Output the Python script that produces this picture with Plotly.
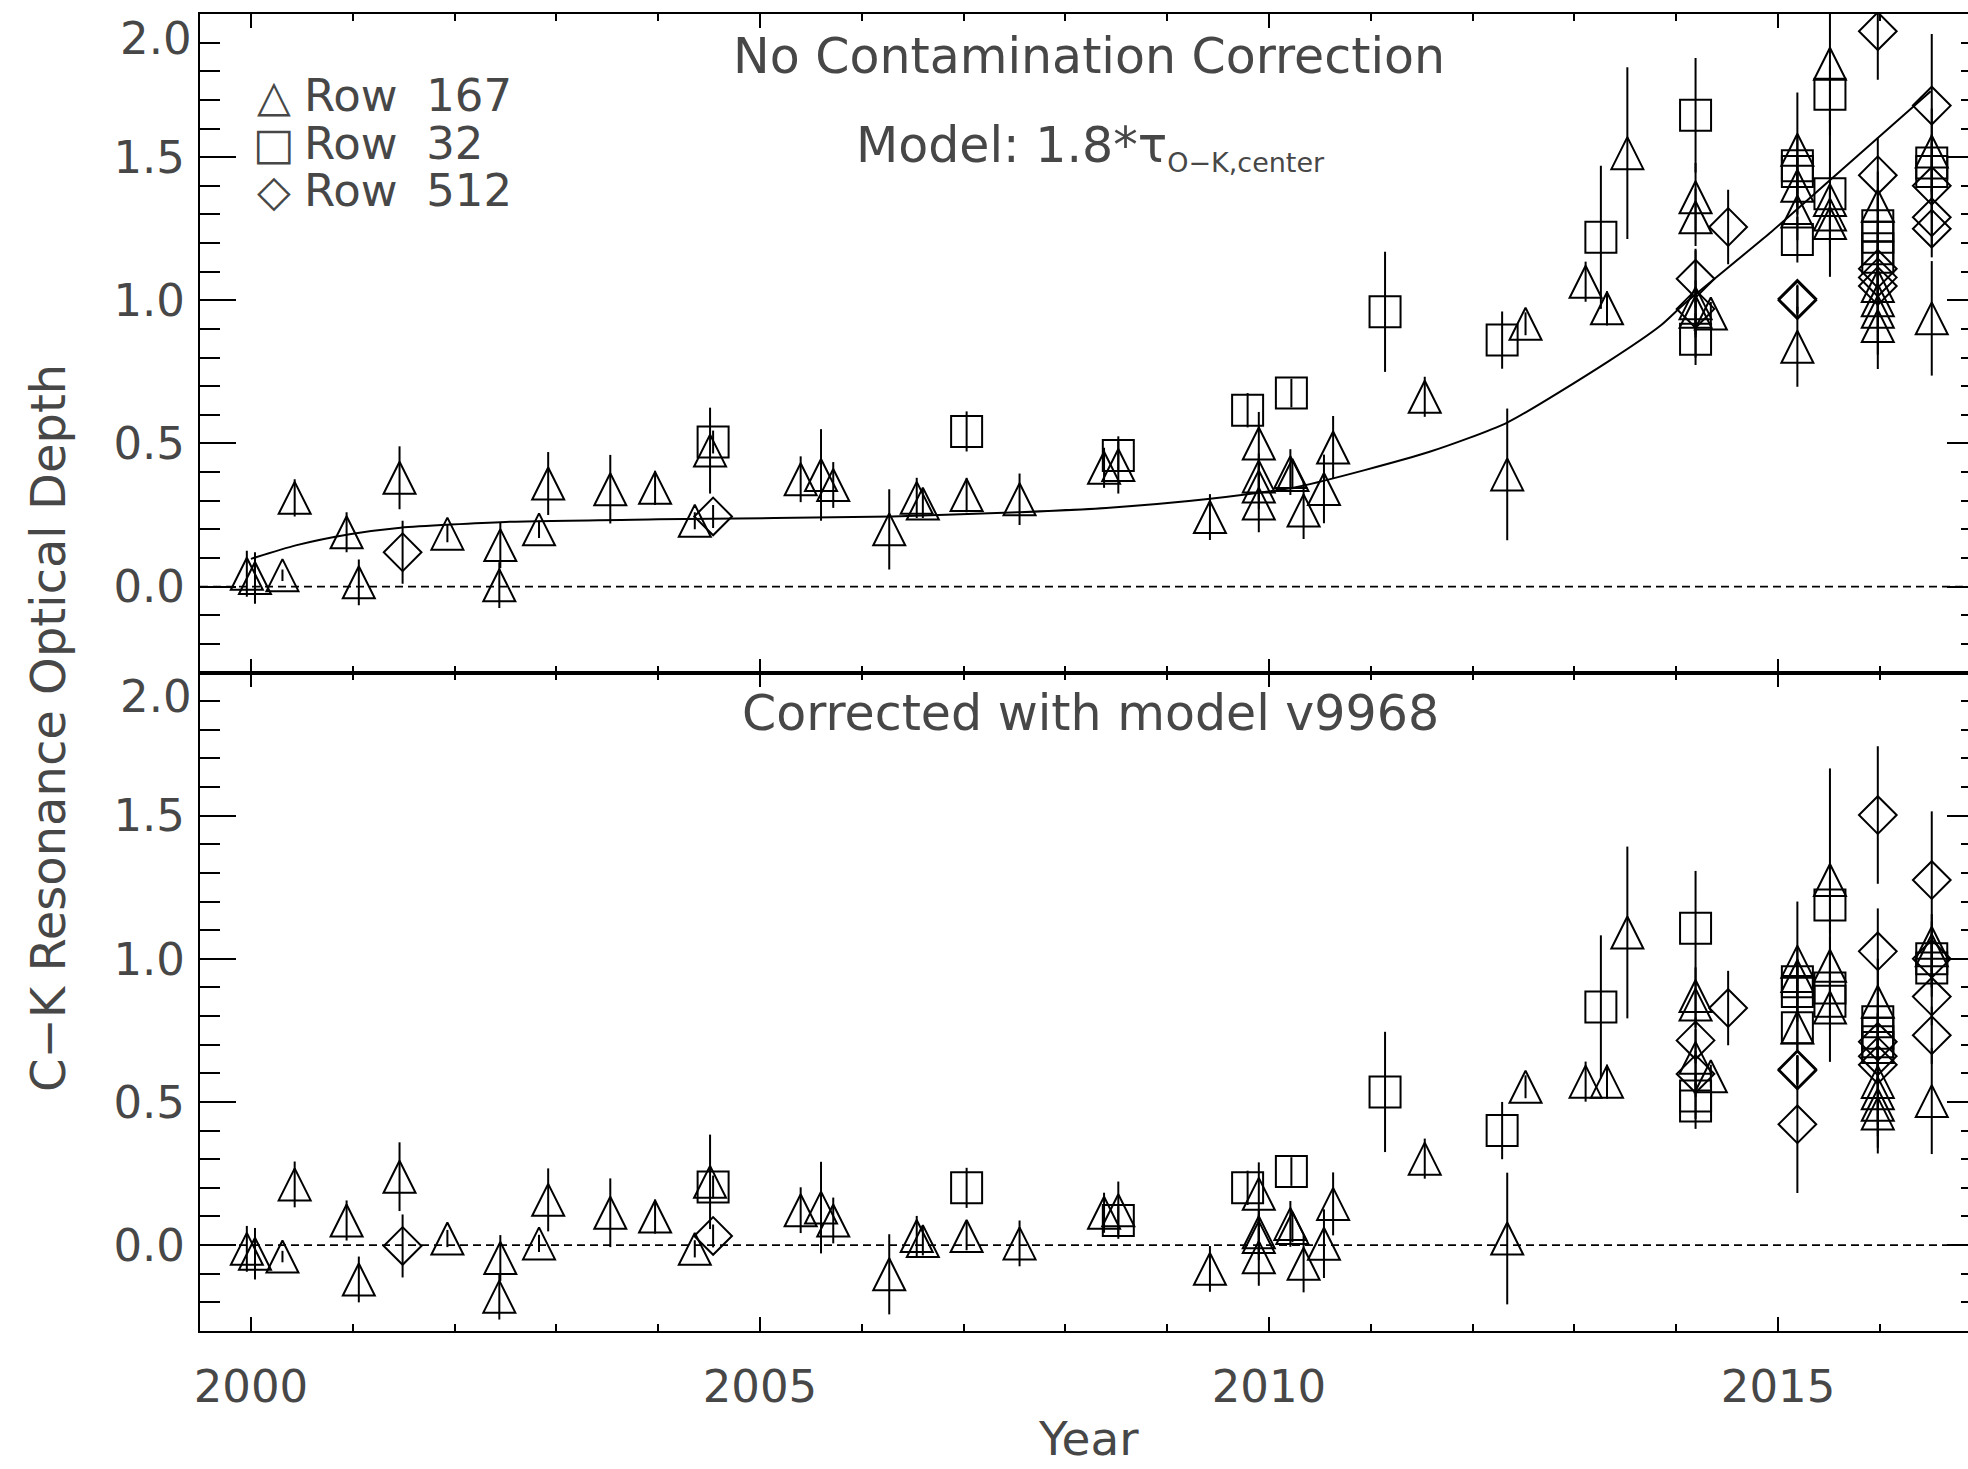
import plotly.graph_objects as go

# ---------------- data ----------------
# Upper panel: no contamination correction
row167_year_top = [1999.96, 2000.04, 2000.31, 2000.43, 2000.94, 2001.06, 2001.46, 2001.93, 2002.45, 2002.44,
                   2002.83, 2002.92, 2003.53, 2003.97, 2004.36, 2004.51, 2005.40, 2005.60, 2005.72, 2006.27,
                   2006.54, 2006.60, 2007.03, 2007.55, 2008.38, 2008.52, 2009.42, 2009.90, 2009.90, 2009.90,
                   2009.90, 2010.21, 2010.23, 2010.34, 2010.54, 2010.63, 2011.53, 2012.34, 2012.52, 2013.11,
                   2013.32, 2013.52, 2014.19, 2014.19, 2014.19, 2014.19, 2014.34, 2015.19, 2015.19, 2015.19,
                   2015.19, 2015.51, 2015.51, 2015.51, 2015.51, 2015.98, 2015.98, 2015.98, 2015.98, 2015.98,
                   2016.51, 2016.51]
row167_tau_top = [0.045, 0.030, 0.040, 0.310, 0.190, 0.015, 0.380, 0.185, 0.145, 0.005,
                  0.200, 0.360, 0.340, 0.345, 0.230, 0.475, 0.375, 0.390, 0.355, 0.200,
                  0.310, 0.290, 0.320, 0.305, 0.415, 0.425, 0.243, 0.500, 0.385, 0.350,
                  0.290, 0.400, 0.390, 0.266, 0.341, 0.486, 0.663, 0.392, 0.918, 1.065,
                  0.972, 1.514, 1.360, 1.290, 0.990, 0.960, 0.954, 1.526, 1.400, 1.310,
                  0.838, 1.826, 1.350, 1.300, 1.270, 1.330, 1.050, 1.000, 0.960, 0.910,
                  1.520, 0.937]
row167_err_top = [0.08, 0.09, 0.02, 0.065, 0.07, 0.08, 0.11, 0.03, 0.08, 0.08,
                  0.03, 0.11, 0.12, 0.06, 0.03, 0.15, 0.08, 0.16, 0.08, 0.14,
                  0.07, 0.05, 0.06, 0.09, 0.07, 0.10, 0.08, 0.11, 0.08, 0.08,
                  0.10, 0.08, 0.05, 0.10, 0.12, 0.11, 0.07, 0.23, 0.04, 0.07,
                  0.06, 0.30, 0.12, 0.10, 0.19, 0.08, 0.04, 0.20, 0.10, 0.10,
                  0.14, 0.25, 0.10, 0.10, 0.10, 0.12, 0.15, 0.15, 0.15, 0.15,
                  0.15, 0.20]

row32_year_top = [2004.54, 2007.03, 2008.52, 2009.79, 2010.22, 2011.14, 2012.29, 2013.26, 2014.19, 2014.19,
                  2015.19, 2015.19, 2015.19, 2015.51, 2015.51, 2015.98, 2015.98, 2015.98, 2015.98, 2016.51,
                  2016.51]
row32_tau_top = [0.505, 0.542, 0.458, 0.616, 0.676, 0.960, 0.861, 1.220, 1.646, 0.864,
                 1.470, 1.450, 1.212, 1.720, 1.372, 1.260, 1.220, 1.180, 1.150, 1.480,
                 1.450]
row32_err_top = [0.04, 0.07, 0.05, 0.06, 0.05, 0.21, 0.10, 0.25, 0.20, 0.09,
                 0.10, 0.05, 0.08, 0.10, 0.29, 0.10, 0.10, 0.10, 0.10, 0.10,
                 0.10]

row512_year_top = [2001.49, 2004.54, 2014.19, 2014.19, 2014.51, 2015.19, 2015.19, 2015.98, 2015.98, 2015.98,
                   2015.98, 2015.98, 2016.51, 2016.51, 2016.51, 2016.51]
row512_tau_top = [0.120, 0.245, 1.075, 0.970, 1.256, 1.000, 1.005, 1.940, 1.437, 1.110,
                  1.080, 1.050, 1.680, 1.400, 1.290, 1.250]
row512_err_top = [0.11, 0.04, 0.10, 0.10, 0.13, 0.05, 0.05, 0.17, 0.13, 0.10,
                  0.10, 0.10, 0.25, 0.10, 0.10, 0.10]

# Model curve 1.8 * tau_{O-K,center}
model_year = [2000.0, 2000.44, 2000.97, 2001.47, 2002.5, 2004.0, 2006.3, 2007.55, 2008.4, 2009.4,
              2010.3, 2011.57, 2012.34, 2013.33, 2013.85, 2014.08, 2014.92, 2015.54, 2016.5]
model_tau = [0.097, 0.144, 0.183, 0.206, 0.226, 0.235, 0.245, 0.260, 0.275, 0.306,
             0.350, 0.470, 0.573, 0.786, 0.913, 0.988, 1.235, 1.429, 1.730]

# Lower panel: corrected with model v9968
row167_year_bot = [1999.96, 2000.04, 2000.31, 2000.43, 2000.94, 2001.06, 2001.46, 2001.93, 2002.45, 2002.44,
                   2002.83, 2002.92, 2003.53, 2003.97, 2004.36, 2004.51, 2005.40, 2005.60, 2005.72, 2006.27,
                   2006.54, 2006.60, 2007.03, 2007.55, 2008.38, 2008.52, 2009.42, 2009.90, 2009.90, 2009.90,
                   2009.90, 2010.21, 2010.23, 2010.34, 2010.54, 2010.63, 2011.53, 2012.34, 2012.52, 2013.11,
                   2013.32, 2013.52, 2014.19, 2014.19, 2014.19, 2014.34, 2015.19, 2015.19, 2015.19, 2015.51,
                   2015.51, 2015.51, 2015.98, 2015.98, 2015.98, 2015.98, 2015.98, 2016.51, 2016.51, 2016.51]
row167_tau_bot = [-0.013, -0.030, -0.040, 0.212, 0.086, -0.120, 0.239, 0.023, -0.045, -0.180,
                  0.006, 0.158, 0.113, 0.100, -0.013, 0.221, 0.122, 0.131, 0.086, -0.102,
                  0.032, 0.014, 0.032, 0.006, 0.113, 0.122, -0.083, 0.179, 0.045, 0.028,
                  -0.042, 0.074, 0.060, -0.065, 0.005, 0.144, 0.302, 0.023, 0.553, 0.571,
                  0.571, 1.092, 0.870, 0.840, 0.654, 0.590, 0.990, 0.940, 0.760, 1.275,
                  0.976, 0.830, 0.850, 0.570, 0.530, 0.490, 0.460, 1.056, 1.030, 0.503]
row167_err_bot = [0.08, 0.09, 0.02, 0.08, 0.07, 0.08, 0.12, 0.03, 0.08, 0.08,
                  0.03, 0.11, 0.12, 0.06, 0.03, 0.165, 0.08, 0.16, 0.08, 0.14,
                  0.07, 0.05, 0.05, 0.08, 0.07, 0.10, 0.08, 0.11, 0.08, 0.08,
                  0.10, 0.08, 0.05, 0.10, 0.12, 0.11, 0.07, 0.23, 0.04, 0.07,
                  0.06, 0.30, 0.10, 0.08, 0.10, 0.04, 0.21, 0.10, 0.08, 0.39,
                  0.10, 0.19, 0.15, 0.15, 0.15, 0.15, 0.14, 0.10, 0.10, 0.185]

row32_year_bot = [2004.54, 2007.03, 2008.52, 2009.79, 2010.22, 2011.14, 2012.29, 2013.26, 2014.19, 2014.19,
                  2014.19, 2015.19, 2015.19, 2015.19, 2015.51, 2015.51, 2015.51, 2015.98, 2015.98, 2015.98,
                  2015.98, 2016.51, 2016.51]
row32_tau_bot = [0.203, 0.200, 0.086, 0.200, 0.257, 0.535, 0.400, 0.832, 1.107, 0.521,
                 0.486, 0.920, 0.886, 0.759, 1.188, 0.898, 0.852, 0.780, 0.740, 0.710,
                 0.690, 0.968, 1.000]
row32_err_bot = [0.04, 0.07, 0.05, 0.06, 0.05, 0.21, 0.10, 0.25, 0.20, 0.08,
                 0.08, 0.08, 0.08, 0.08, 0.10, 0.10, 0.10, 0.10, 0.10, 0.10,
                 0.10, 0.10, 0.10]

row512_year_bot = [2001.49, 2004.54, 2014.19, 2014.19, 2014.51, 2015.19, 2015.19, 2015.19, 2015.98, 2015.98,
                   2015.98, 2015.98, 2015.98, 2016.51, 2016.51, 2016.51, 2016.51]
row512_tau_bot = [-0.003, 0.032, 0.715, 0.598, 0.828, 0.614, 0.610, 0.422, 1.502, 1.026,
                  0.710, 0.660, 0.630, 1.275, 1.000, 0.868, 0.733]
row512_err_bot = [0.11, 0.04, 0.08, 0.08, 0.13, 0.05, 0.05, 0.24, 0.24, 0.15,
                  0.10, 0.10, 0.10, 0.24, 0.10, 0.10, 0.10]

legend_labels = ["Row\u00a0\u00a0167", "Row\u00a0\u00a032", "Row\u00a0\u00a0512"]
ytick_vals = [0.0, 0.5, 1.0, 1.5]
ytick_text = ["0.0", "0.5", "1.0", "1.5"]
ytop_label = "2.0"
xtick_vals = [2000, 2005, 2010, 2015]
xtick_text = ["2000", "2005", "2010", "2015"]

# ---------------- styling ----------------
FONT = "DejaVu Sans"
TXT = "#474747"
TRI = dict(symbol="arrow-down-open", size=32, angle=180, standoff=16)
SQR = dict(symbol="square-open", size=31)
DIA = dict(symbol="diamond-open", size=29)

fig = go.Figure()


def add_series(x, y, e, mk, xa, ya):
    fig.add_trace(go.Scatter(
        x=x, y=y, mode="markers", xaxis=xa, yaxis=ya,
        error_y=dict(type="data", array=e, visible=True, color="black", thickness=2, width=0),
        marker=dict(color="black", line=dict(color="black", width=2), **mk),
        showlegend=False, hoverinfo="skip"))


add_series(row167_year_top, row167_tau_top, row167_err_top, TRI, "x", "y")
add_series(row32_year_top, row32_tau_top, row32_err_top, SQR, "x", "y")
add_series(row512_year_top, row512_tau_top, row512_err_top, DIA, "x", "y")
fig.add_trace(go.Scatter(x=model_year, y=model_tau, mode="lines", xaxis="x", yaxis="y",
                         line=dict(color="black", width=2, shape="spline", smoothing=0.6),
                         showlegend=False, hoverinfo="skip"))

add_series(row167_year_bot, row167_tau_bot, row167_err_bot, TRI, "x2", "y2")
add_series(row32_year_bot, row32_tau_bot, row32_err_bot, SQR, "x2", "y2")
add_series(row512_year_bot, row512_tau_bot, row512_err_bot, DIA, "x2", "y2")

# empty traces so the right-hand tick axes are attached to both panels
fig.add_trace(go.Scatter(x=[], y=[], xaxis="x", yaxis="y3", showlegend=False, hoverinfo="skip"))
fig.add_trace(go.Scatter(x=[], y=[], xaxis="x2", yaxis="y4", showlegend=False, hoverinfo="skip"))

# dotted zero lines
for xr, ya in (("x domain", "y"), ("x2 domain", "y2")):
    fig.add_shape(type="line", xref=xr, x0=0, x1=1, yref=ya, y0=0, y1=0,
                  line=dict(color="black", width=1.6, dash="8px,5px"))

XR = [1999.5, 2016.866]
YR = [-0.3, 2.0]

xcommon = dict(range=XR, showline=True, linecolor="black", linewidth=2, mirror="ticks",
               ticks="inside", ticklen=14, tickwidth=2, tickcolor="black",
               tickmode="array", tickvals=xtick_vals, ticktext=xtick_text,
               showgrid=False, zeroline=False,
               minor=dict(tickmode="linear", tick0=2000, dtick=1, ticks="inside", ticklen=7,
                          tickwidth=2, tickcolor="black", showgrid=False))
ycommon = dict(range=YR, showline=True, linecolor="black", linewidth=2,
               ticks="inside", ticklen=36, tickwidth=2, tickcolor="black",
               tickmode="array", tickvals=ytick_vals, ticktext=ytick_text,
               showgrid=False, zeroline=False, ticklabelstandoff=4,
               tickfont=dict(family=FONT, size=45, color=TXT),
               minor=dict(tickmode="linear", tick0=0, dtick=0.1, ticks="inside", ticklen=20,
                          tickwidth=2, tickcolor="black", showgrid=False))
yright = dict(range=YR, showline=False, side="right", ticks="inside", ticklen=21, tickwidth=2,
              tickcolor="black", tickmode="array", tickvals=ytick_vals, showticklabels=False,
              showgrid=False, zeroline=False,
              minor=dict(tickmode="linear", tick0=0, dtick=0.1, ticks="inside", ticklen=7,
                         tickwidth=2, tickcolor="black", showgrid=False))

fig.update_layout(
    width=1968, height=1469,
    margin=dict(l=200, r=0, t=14, b=138, pad=0),
    paper_bgcolor="white", plot_bgcolor="white", showlegend=False,
    font=dict(family=FONT, size=45, color=TXT),
    xaxis=dict(domain=[0, 1], anchor="y", showticklabels=False, **xcommon),
    xaxis2=dict(domain=[0, 1], anchor="y2", matches="x", showticklabels=True,
                ticklabelstandoff=15, tickfont=dict(family=FONT, size=45, color=TXT), **xcommon),
    yaxis=dict(domain=[0.5, 1], anchor="x", **ycommon),
    yaxis2=dict(domain=[0, 0.5], anchor="x2", **ycommon),
    yaxis3=dict(overlaying="y", anchor="x", **yright),
    yaxis4=dict(overlaying="y2", anchor="x2", **yright),
)


def label(text, x, y, size, **kw):
    d = dict(text=text, xref="paper", yref="paper", x=x, y=y, xanchor="center", yanchor="middle",
             showarrow=False, font=dict(family=FONT, size=size, color=TXT))
    d.update(kw)
    return d


ann = []
# panel texts
ann.append(label("No Contamination Correction", 0.5028, 0.9674, 49))
ann.append(label("Model: 1.8*\u03c4<sub><span style='font-size:27px'>O\u2212K,center</span></sub>",
                 0.5034, 0.8985, 49))
ann.append(label("Corrected with model v9968", 0.5034, 0.4685, 49))
# axis titles
ann.append(label("C\u2212K Resonance Optical Depth", -0.086, 0.4579, 48, textangle=-90))
ann.append(label("Year", 0.5028, (1331 - 1468) / 1317, 47, yanchor="bottom"))
# top "2.0" labels (drawn slightly below the top border, as in the reference)
for ya in ("y", "y2"):
    ann.append(dict(text=ytop_label, xref="paper", yref=ya, x=0, y=2.0, xanchor="right", yanchor="middle",
                    xshift=-6, yshift=-24, showarrow=False, font=dict(family=FONT, size=45, color=TXT)))
# legend (symbol glyph + label)
glyphs = ["\u25b3", "\u25a1", "\u25c7"]
leg_y = [0.9385, 0.902, 0.866]
for g, lab, yy in zip(glyphs, legend_labels, leg_y):
    ann.append(label(g, 0.0419, yy, 44, height=44))
    ann.append(label(lab, 0.0575, yy, 45, xanchor="left", height=44))
fig.update_layout(annotations=ann)

fig.write_html("out.html")
